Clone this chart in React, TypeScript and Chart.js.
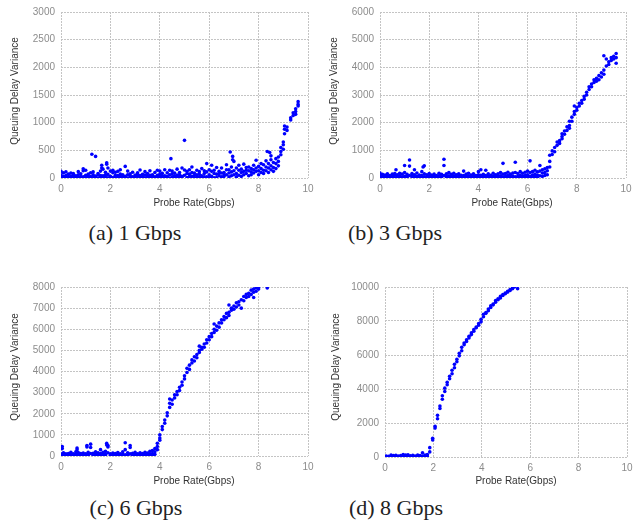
import React, { useEffect, useRef } from "react";
import { Chart, registerables } from "chart.js";

Chart.register(...registerables);

type Column = [number, number[]];

const xTickValues = [0, 2, 4, 6, 8, 10];
const xAxisTitle = "Probe Rate(Gbps)";
const yAxisTitle = "Queuing Delay Variance";
const captions = ["(a) 1 Gbps", "(b) 3 Gbps", "(c) 6 Gbps", "(d) 8 Gbps"];
const yMaxes = [3000, 6000, 8000, 10000];
const ySteps = [500, 1000, 1000, 2000];

// (a) 1 Gbps cross traffic: [probe rate, [variance samples]]
const probe1G: Column[] = [
  [0.0, [120, 60, 15]], [0.1, [95, 30, 5]], [0.2, [110, 45, 10]], [0.3, [70, 20, 0]],
  [0.4, [90, 35, 5]], [0.5, [55, 15, 80]], [0.6, [40, 0, 25]], [0.7, [115, 60, 10]],
  [0.8, [75, 25, 5]], [0.9, [165, 130, 20]], [1.0, [140, 50, 10]], [1.1, [35, 5, 70]],
  [1.2, [95, 25, 0]], [1.25, [430]], [1.3, [60, 10, 110]], [1.4, [390, 35, 5]],
  [1.5, [55, 80, 0]], [1.6, [125, 20, 45]], [1.65, [230, 180]], [1.7, [160, 40, 10]],
  [1.8, [105, 15, 60]], [1.85, [275, 250]], [1.9, [180, 65, 5]], [2.0, [125, 30, 0]],
  [2.1, [140, 95, 10]], [2.2, [105, 50, 20]], [2.3, [45, 0, 120]], [2.4, [150, 25, 70]],
  [2.5, [60, 10, 35]], [2.6, [210, 30, 5]], [2.7, [125, 60, 0]], [2.8, [75, 40, 15]],
  [2.9, [105, 20, 0]], [3.0, [55, 5, 30]], [3.1, [95, 30, 70]], [3.2, [145, 10, 45]],
  [3.3, [65, 20, 0]], [3.4, [115, 55, 5]], [3.5, [40, 80, 15]], [3.6, [130, 10, 50]],
  [3.7, [35, 60, 0]], [3.8, [100, 20, 5]], [3.9, [140, 50, 10]], [4.0, [125, 25, 70]],
  [4.1, [85, 10, 40]], [4.2, [150, 40, 0]], [4.3, [95, 30, 5]], [4.4, [140, 60, 0]],
  [4.45, [350]], [4.5, [125, 20, 75]], [4.6, [90, 40, 10]], [4.7, [160, 10, 55]],
  [4.8, [100, 60, 20]], [4.9, [180, 30, 5]], [5.0, [680, 145, 50]], [5.1, [120, 10, 80]],
  [5.2, [150, 70, 25]], [5.3, [200, 30, 100]], [5.4, [90, 0, 45]], [5.5, [140, 60, 15]],
  [5.6, [115, 20, 70]], [5.7, [170, 40, 5]], [5.8, [130, 80, 20]], [5.9, [260, 110, 20]],
  [6.0, [150, 60, 10]], [6.1, [230, 120, 30]], [6.2, [140, 80, 5]], [6.3, [190, 70, 10]],
  [6.4, [120, 40, 80]], [6.5, [180, 90, 20]], [6.6, [100, 30, 60]], [6.7, [240, 150, 60]],
  [6.8, [150, 20, 90]], [6.85, [470]], [6.9, [200, 110, 40]], [6.95, [390, 330]],
  [7.0, [300, 130, 60]], [7.1, [180, 80, 20]], [7.2, [230, 140, 50]], [7.3, [160, 100, 30]],
  [7.4, [250, 120, 60]], [7.5, [190, 80, 140]], [7.6, [130, 200, 40]], [7.7, [170, 110, 60]],
  [7.8, [230, 150, 90]], [7.9, [320, 180, 120]], [8.0, [210, 130, 60]], [8.1, [260, 170, 100]],
  [8.2, [240, 140, 80]], [8.3, [310, 200, 130]], [8.35, [480]], [8.4, [260, 180, 100]],
  [8.45, [460]], [8.5, [400, 330, 220, 150]], [8.6, [280, 190, 120]], [8.7, [350, 260, 170]],
  [8.8, [380, 300, 220]], [8.9, [550, 480, 420]], [9.0, [650, 600, 520]], [9.05, [940, 880, 800]],
  [9.15, [920, 860]], [9.3, [1090, 1050]], [9.4, [1180, 1130]], [9.5, [1250, 1200, 1150]],
  [9.6, [1380, 1330, 1300]],
];

// (b) 3 Gbps
const probe3G: Column[] = [
  [0.0, [180, 90, 20]], [0.1, [130, 60, 10]], [0.2, [110, 30, 0]], [0.3, [150, 70, 15]],
  [0.4, [90, 40, 5]], [0.5, [140, 20, 60]], [0.6, [160, 100, 10]], [0.65, [300]],
  [0.7, [120, 50, 0]], [0.8, [170, 80, 20]], [0.9, [140, 30, 10]], [1.0, [450, 200, 60]],
  [1.1, [130, 40, 0]], [1.2, [650, 430, 90]], [1.3, [160, 70, 10]], [1.4, [300, 120, 30]],
  [1.5, [180, 60, 5]], [1.6, [110, 40, 0]], [1.7, [230, 90, 20]], [1.75, [400]],
  [1.8, [440, 150, 40]], [1.9, [120, 30, 5]], [2.0, [160, 70, 10]], [2.1, [110, 40, 0]],
  [2.2, [140, 60, 20]], [2.3, [90, 30, 5]], [2.4, [170, 80, 10]], [2.5, [130, 40, 0]],
  [2.6, [680, 450, 90]], [2.7, [150, 60, 10]], [2.8, [200, 80, 20]], [2.9, [130, 50, 5]],
  [3.0, [170, 70, 0]], [3.1, [120, 40, 10]], [3.2, [150, 60, 20]], [3.3, [100, 30, 0]],
  [3.4, [250, 90, 15]], [3.5, [140, 50, 5]], [3.6, [170, 70, 20]], [3.7, [110, 40, 0]],
  [3.8, [150, 60, 10]], [3.9, [90, 30, 5]], [4.0, [230, 120, 40]], [4.1, [300, 100, 20]],
  [4.2, [130, 50, 0]], [4.3, [280, 90, 10]], [4.4, [150, 60, 5]], [4.5, [100, 30, 0]],
  [4.6, [170, 70, 20]], [4.7, [120, 40, 5]], [4.8, [150, 60, 10]], [4.9, [200, 80, 0]],
  [5.0, [530, 140, 30]], [5.1, [160, 60, 10]], [5.2, [210, 90, 20]], [5.3, [140, 50, 0]],
  [5.4, [180, 70, 10]], [5.5, [570, 200, 40]], [5.6, [160, 60, 5]], [5.7, [230, 100, 20]],
  [5.8, [170, 70, 10]], [5.9, [210, 90, 30]], [6.0, [250, 120, 40]], [6.1, [620, 200, 60]],
  [6.2, [230, 110, 30]], [6.3, [280, 140, 50]], [6.4, [220, 100, 20]], [6.5, [450, 250, 80]],
  [6.6, [300, 180, 60]], [6.7, [330, 200, 90]], [6.8, [380, 260, 120]], [6.9, [820, 600, 400]],
  [7.0, [980, 850]], [7.1, [1100, 950]], [7.2, [1300, 1180]], [7.3, [1350, 1250]],
  [7.4, [1600, 1500, 1420]], [7.5, [1700, 1580]], [7.6, [1850, 1720]], [7.7, [2050, 1900, 1800]],
  [7.8, [2200, 2050]], [7.9, [2600, 2400, 2300]], [8.0, [2550, 2450]], [8.1, [2700, 2600]],
  [8.2, [2800, 2700]], [8.3, [2950, 2850]], [8.4, [3100, 3000]], [8.5, [3300, 3200]],
  [8.6, [3400, 3300]], [8.7, [3550, 3450]], [8.8, [3600, 3500]], [8.9, [3700, 3550]],
  [9.0, [3800, 3650]], [9.1, [4420, 3900, 3750]], [9.2, [4300, 4050]], [9.3, [4200, 4100]],
  [9.4, [4350, 4250]], [9.5, [4400, 4300]], [9.6, [4500, 4350, 4150]],
];

// (c) 6 Gbps
const probe6G: Column[] = [
  [0.05, [450, 350, 100, 20]], [0.1, [150, 60]], [0.2, [100, 30, 0]], [0.3, [120, 50, 10]],
  [0.4, [180, 80, 20]], [0.5, [110, 40, 0]], [0.6, [200, 90, 30]], [0.65, [380, 300]],
  [0.7, [160, 60, 10]], [0.8, [120, 40, 0]], [0.9, [140, 70, 20]], [1.0, [100, 30, 5]],
  [1.05, [500, 430]], [1.1, [170, 60, 10]], [1.2, [560, 400, 120]], [1.3, [130, 50, 0]],
  [1.4, [200, 80, 20]], [1.5, [150, 60, 10]], [1.6, [300, 120, 30]], [1.7, [180, 70, 0]],
  [1.8, [220, 90, 20]], [1.85, [600, 520]], [1.9, [500, 430, 150]], [2.0, [110, 40, 0]],
  [2.1, [140, 60, 10]], [2.2, [120, 30, 0]], [2.3, [160, 70, 20]], [2.4, [100, 40, 5]],
  [2.5, [200, 90, 10]], [2.6, [630, 300, 60]], [2.7, [150, 50, 0]], [2.8, [500, 400, 100]],
  [2.9, [130, 50, 10]], [3.0, [170, 80, 20]], [3.1, [110, 40, 0]], [3.2, [150, 60, 10]],
  [3.3, [120, 30, 0]], [3.4, [180, 70, 20]], [3.5, [140, 50, 5]], [3.6, [220, 90, 30]],
  [3.7, [260, 120, 40]], [3.8, [350, 200, 80]], [3.9, [600, 450, 300]], [4.0, [1000, 850, 750]],
  [4.1, [1400, 1250]], [4.2, [1700, 1550]], [4.3, [2050, 1900]], [4.4, [2700, 2500, 2300]],
  [4.5, [2650, 2450]], [4.6, [2900, 2750]], [4.7, [3050, 2900]], [4.8, [3250, 3100]],
  [4.9, [3500, 3350]], [5.0, [3800, 3650]], [5.1, [4150, 3950]], [5.2, [4300, 4100]],
  [5.3, [4550, 4400]], [5.4, [4700, 4500]], [5.5, [4800, 4650]], [5.6, [5200, 5000, 4900]],
  [5.7, [5150, 5050]], [5.8, [5300, 5150]], [5.9, [5500, 5350]], [6.0, [5650, 5500]],
  [6.1, [5800, 5650]], [6.2, [6250, 6000, 5850]], [6.3, [6150, 5950]], [6.4, [6300, 6100]],
  [6.5, [6450, 6300]], [6.6, [6600, 6450]], [6.7, [6750, 6550]], [6.8, [7150, 6800, 6650]],
  [6.9, [7000, 6900]], [7.0, [7100, 6950]], [7.1, [7250, 7050]], [7.2, [7300, 7150]],
  [7.3, [7400, 7000]], [7.4, [7550, 7350]], [7.5, [7650, 7500]], [7.6, [7700, 7550]],
  [7.7, [7850, 7650]], [7.8, [7900, 7750, 7500]], [7.9, [7950, 7800]], [8.0, [8000, 7900]],
  [8.35, [7950]],
];

// (d) 8 Gbps
const probe8G: Column[] = [
  [0.05, [60, 10]], [0.15, [40, 0]], [0.25, [120, 30]], [0.35, [80, 20]],
  [0.45, [100, 10]], [0.55, [60, 0]], [0.65, [90, 30]], [0.75, [140, 50]],
  [0.85, [110, 20]], [0.95, [130, 40]], [1.05, [70, 10]], [1.15, [100, 30]],
  [1.25, [60, 0]], [1.35, [120, 40]], [1.45, [80, 20]], [1.55, [250, 60]],
  [1.65, [110, 30]], [1.75, [150, 50]], [1.85, [550, 300]], [1.97, [1100, 1000]],
  [2.07, [1800, 1700]], [2.17, [2450, 2250]], [2.27, [3000, 2850]], [2.37, [3600, 3400]],
  [2.47, [4050, 3850]], [2.57, [4400, 4250]], [2.67, [4750, 4600]], [2.77, [5100, 4900]],
  [2.87, [5450, 5250]], [2.97, [5750, 5600]], [3.07, [6100, 5950]], [3.17, [6450, 6250]],
  [3.27, [6700, 6600]], [3.37, [6900, 6800]], [3.47, [7100, 7000]], [3.57, [7300, 7200]],
  [3.67, [7500, 7400]], [3.77, [7650, 7600]], [3.87, [7850, 7750]], [3.97, [8100, 7950]],
  [4.07, [8400, 8250]], [4.17, [8500, 8450]], [4.27, [8700, 8600]], [4.37, [8900, 8800]],
  [4.47, [9000, 8950]], [4.57, [9200, 9100]], [4.67, [9300, 9250]], [4.77, [9450, 9350]],
  [4.87, [9550, 9500]], [4.97, [9650, 9600]], [5.07, [9750, 9700]], [5.17, [9850, 9800]],
  [5.27, [10000, 9900]], [5.35, [10000]], [5.48, [9900]],
];

const panelData = [probe1G, probe3G, probe6G, probe8G];

type Spec = {
  left: number; top: number; width: number; height: number;
  l: number; r: number; t: number; b: number;
  yTitleX: number; yTitleY: number; xTitleX: number; xTitleY: number;
  capX: number; capY: number;
};

const specs: Spec[] = [
  { left: 0, top: 0, width: 320, height: 220, l: 61, r: 308, t: 10, b: 178, yTitleX: 15, yTitleY: 91, xTitleX: 194, xTitleY: 203, capX: 135, capY: 233 },
  { left: 320, top: 0, width: 321, height: 220, l: 60, r: 306, t: 10, b: 178, yTitleX: 14, yTitleY: 91, xTitleX: 192, xTitleY: 203, capX: 395, capY: 233 },
  { left: 0, top: 270, width: 320, height: 225, l: 61, r: 308, t: 17, b: 186, yTitleX: 15.5, yTitleY: 97, xTitleX: 194, xTitleY: 211, capX: 136, capY: 508 },
  { left: 320, top: 270, width: 321, height: 225, l: 65, r: 307, t: 17, b: 187, yTitleX: 16, yTitleY: 97, xTitleX: 196, xTitleY: 211, capX: 396, capY: 508 },
];

const SANS = "'Liberation Sans', Arial, sans-serif";
const TICK_COLOR = "#8c8c8c";
const TITLE_COLOR = "#333333";
const GRID_COLOR = "#c4c4c4";
const POINT_COLOR = "#0000ff";

function Panel({ idx }: { idx: number }) {
  const ref = useRef<HTMLCanvasElement | null>(null);
  const s = specs[idx];
  useEffect(() => {
    if (!ref.current) return;
    const points = panelData[idx].flatMap(([x, ys]) => ys.map((y) => ({ x, y })));
    const titles = {
      id: "axisTitles" + idx,
      afterDraw(chart: any) {
        const ctx = chart.ctx as CanvasRenderingContext2D;
        ctx.save();
        ctx.fillStyle = TITLE_COLOR;
        ctx.font = "10px " + SANS;
        ctx.textAlign = "center";
        ctx.textBaseline = "middle";
        ctx.fillText(xAxisTitle, s.xTitleX, s.xTitleY);
        ctx.translate(s.yTitleX, s.yTitleY);
        ctx.rotate(-Math.PI / 2);
        ctx.fillText(yAxisTitle, 0, 0);
        ctx.restore();
      },
    };
    const chart = new Chart(ref.current, {
      type: "scatter",
      data: {
        datasets: [
          {
            data: points,
            backgroundColor: POINT_COLOR,
            borderWidth: 0,
            pointRadius: 1.8,
            pointHoverRadius: 1.8,
          },
        ],
      },
      options: {
        animation: false,
        responsive: false,
        devicePixelRatio: 1,
        events: [],
        layout: { padding: { left: 0, top: s.t, right: s.width - s.r, bottom: 0 } },
        plugins: { legend: { display: false }, tooltip: { enabled: false } },
        scales: {
          x: {
            type: "linear",
            min: 0,
            max: 10,
            afterBuildTicks: (sc: any) => {
              sc.ticks = xTickValues.map((v) => ({ value: v }));
            },
            afterFit: (sc: any) => {
              sc.height = s.height - s.b;
            },
            ticks: {
              color: TICK_COLOR,
              font: { family: SANS, size: 10 },
              padding: 5,
              maxRotation: 0,
              callback: (v: any) => String(v),
            },
            grid: { color: GRID_COLOR, lineWidth: 1, drawTicks: false },
            border: { display: false, dash: [2, 1] },
          },
          y: {
            type: "linear",
            min: 0,
            max: yMaxes[idx],
            ticks: {
              stepSize: ySteps[idx],
              color: TICK_COLOR,
              font: { family: SANS, size: 10 },
              padding: 6,
              callback: (v: any) => String(v),
            },
            afterFit: (sc: any) => {
              sc.width = s.l;
            },
            grid: { color: GRID_COLOR, lineWidth: 1, drawTicks: false },
            border: { display: false, dash: [2, 1] },
          },
        },
      },
      plugins: [titles],
    });
    return () => chart.destroy();
  }, [idx]);
  return (
    <canvas
      ref={ref}
      width={s.width}
      height={s.height}
      style={{ position: "absolute", left: s.left, top: s.top, width: s.width, height: s.height }}
    />
  );
}

export default function App() {
  return (
    <div style={{ position: "absolute", left: 0, top: 0, width: 641, height: 520, background: "#ffffff", overflow: "hidden" }}>
      {specs.map((_, i) => (
        <Panel key={i} idx={i} />
      ))}
      {specs.map((s, i) => (
        <div
          key={"c" + i}
          style={{
            position: "absolute",
            left: s.capX - 100,
            top: s.capY - 13,
            width: 200,
            height: 26,
            lineHeight: "26px",
            textAlign: "center",
            fontFamily: "'Liberation Serif', 'Times New Roman', serif",
            fontSize: 22,
            color: "#222222",
            whiteSpace: "nowrap",
          }}
        >
          {captions[i]}
        </div>
      ))}
    </div>
  );
}
